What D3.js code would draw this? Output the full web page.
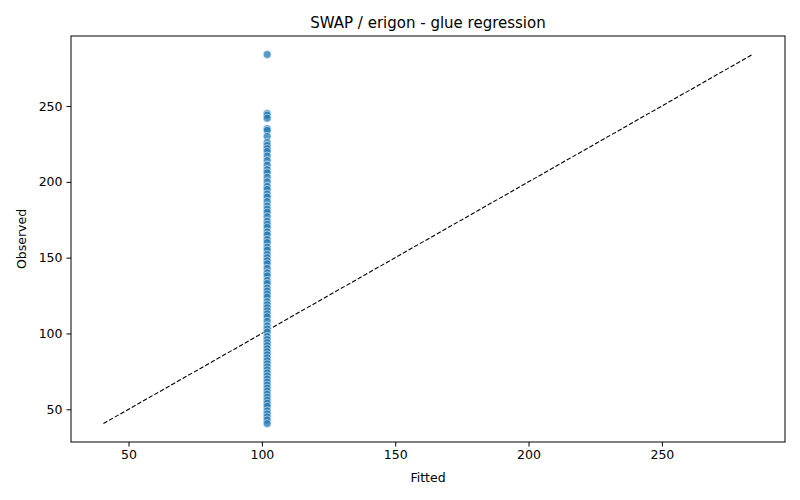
<!DOCTYPE html>
<html>
<head>
<meta charset="utf-8">
<script src="https://cdn.jsdelivr.net/npm/d3@7"></script>
<style>
  body { margin: 0; background: #fff; }
  svg { font-family: "DejaVu Sans", sans-serif; }
</style>
</head>
<body>
<svg id="chart" width="800" height="500"></svg>
<script>
// ---- data ----
const title = "SWAP / erigon - glue regression";
const xLabel = "Fitted";
const yLabel = "Observed";
const observed = [284, 245, 244, 242, 235, 234, 230, 226, 224, 222, 220, 217, 214, 211, 208, 206, 203, 200, 197, 195,
  192, 190, 187, 184, 182, 180, 177, 174, 172, 170, 167, 165, 162, 160, 157, 155, 152, 150, 148, 146,
  143, 140, 138, 135, 133, 130, 128, 126, 124, 121, 119, 117, 115, 113, 111, 108, 105, 103, 101, 98,
  96, 94, 92, 90, 88, 86, 84, 82, 80, 78, 76, 74, 72, 70, 68, 66, 64, 62, 60, 58,
  56, 54, 52, 49, 47, 45, 43, 40.6];
const fitted = [102, 102, 102, 102, 102, 102, 102, 102, 102, 102, 102, 102, 102, 102, 102, 102, 102, 102, 102, 102,
  102, 102, 102, 102, 102, 102, 102, 102, 102, 102, 102, 102, 102, 102, 102, 102, 102, 102, 102, 102,
  102, 102, 102, 102, 102, 102, 102, 102, 102, 102, 102, 102, 102, 102, 102, 102, 102, 102, 102, 102,
  102, 102, 102, 102, 102, 102, 102, 102, 102, 102, 102, 102, 102, 102, 102, 102, 102, 102, 102, 102,
  102, 102, 102, 102, 102, 102, 102, 102];
const xTicks = [50, 100, 150, 200, 250];
const yTicks = [50, 100, 150, 200, 250];

// ---- layout ----
const svg = d3.select("#chart");
const L = 71, R = 785, T = 36, B = 442;

const all = observed.concat(fitted);
const lo = d3.min(all), hi = d3.max(all);
const pad = (hi - lo) * 0.05;

const x = d3.scaleLinear().domain([lo - pad, hi + pad]).range([L, R]);
const y = d3.scaleLinear().domain([lo - pad, hi + pad]).range([B, T]);

// identity line
svg.append("line")
  .attr("x1", x(lo)).attr("y1", y(lo))
  .attr("x2", x(hi)).attr("y2", y(hi))
  .attr("stroke", "#000").attr("stroke-width", 1.1)
  .attr("stroke-dasharray", "4.5,2");

// points
const pts = observed.map((o, i) => ({ o, f: fitted[i] }));
svg.append("g").selectAll("circle").data(pts).join("circle")
  .attr("cx", d => x(d.f)).attr("cy", d => y(d.o))
  .attr("r", 4)
  .attr("fill", "#1f77b4").attr("fill-opacity", 0.75)
  .attr("stroke", "#fff").attr("stroke-width", 0.75).attr("stroke-opacity", 0.75);

// axes
const xAxis = svg.append("g").attr("transform", `translate(0,${B})`)
  .call(d3.axisBottom(x).tickValues(xTicks).tickSize(4.5).tickPadding(4));
const yAxis = svg.append("g").attr("transform", `translate(${L},0)`)
  .call(d3.axisLeft(y).tickValues(yTicks).tickSize(4.5).tickPadding(4));
[xAxis, yAxis].forEach(g => {
  g.select(".domain").remove();
  g.selectAll("text").attr("font-size", 12.5).attr("fill", "#000")
    .attr("font-family", "DejaVu Sans, sans-serif");
  g.selectAll("line").attr("stroke", "#000").attr("stroke-width", 1);
});

// frame
svg.append("rect").attr("x", L).attr("y", T).attr("width", R - L).attr("height", B - T)
  .attr("fill", "none").attr("stroke", "#000").attr("stroke-width", 1);

// labels
svg.append("text").attr("x", (L + R) / 2).attr("y", 28)
  .attr("text-anchor", "middle").attr("font-size", 15).text(title);
svg.append("text").attr("x", (L + R) / 2).attr("y", 482)
  .attr("text-anchor", "middle").attr("font-size", 12.5).text(xLabel);
svg.append("text").attr("transform", `translate(26,${(T + B) / 2}) rotate(-90)`)
  .attr("text-anchor", "middle").attr("font-size", 12.5).text(yLabel);
</script>
</body>
</html>
